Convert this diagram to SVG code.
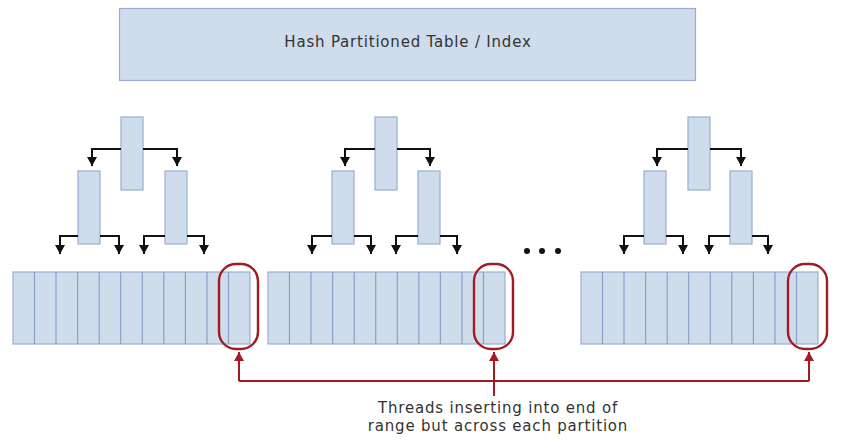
<svg xmlns="http://www.w3.org/2000/svg" xmlns:xlink="http://www.w3.org/1999/xlink" width="846" height="442" viewBox="0 0 846 442">
<defs>
<style>
.box{fill:#cfdcec;stroke:#9aaed3;stroke-width:1.2}
.cell{fill:none;stroke:#8aa0c8;stroke-width:1.2}
.blk{fill:none;stroke:#111;stroke-width:2}
.red{fill:none;stroke:#a01c22;stroke-width:2}
.ring{fill:none;stroke:#a01c22;stroke-width:2.4}
.lbl{font-family:"DejaVu Sans","Liberation Sans",sans-serif;font-size:15px;letter-spacing:0.8px;fill:#333}
</style>
<marker id="ah" markerUnits="userSpaceOnUse" markerWidth="12" markerHeight="12" viewBox="0 0 12 12" refX="10" refY="6" orient="auto">
<path d="M1,1 L10,6 L1,11 Z" fill="#111"/>
</marker>
<marker id="ahr" markerUnits="userSpaceOnUse" markerWidth="12" markerHeight="12" viewBox="0 0 12 12" refX="10" refY="6" orient="auto">
<path d="M1,1 L10,6 L1,11 Z" fill="#a01c22"/>
</marker>
</defs>
<rect width="846" height="442" fill="#ffffff"/>

<g id="table">
<rect class="box" x="119.5" y="8.5" width="576" height="72"/>
<text class="lbl" x="408" y="47" text-anchor="middle">Hash Partitioned Table / Index</text>
</g>

<g id="partition1" transform="translate(13,0)">
<g id="p1-root"><rect class="box" x="108" y="117" width="22" height="73"/></g>
<g id="p1-left"><rect class="box" x="65" y="171" width="22" height="73"/></g>
<g id="p1-right"><rect class="box" x="152" y="171" width="22" height="73"/></g>
<g id="p1-array">
<rect class="box" x="0" y="272" width="237" height="72"/>
<path class="cell" d="M21.5 272V344M43 272V344M64.6 272V344M86.2 272V344M107.7 272V344M129.3 272V344M150.8 272V344M172.4 272V344M194 272V344M215.5 272V344"/>
</g>
<g id="p1-ring"><rect class="ring" x="206" y="264" width="39" height="85" rx="17"/></g>
</g>

<g id="partition2" transform="translate(268,0)">
<g id="p2-root"><rect class="box" x="107" y="117" width="22" height="73"/></g>
<g id="p2-left"><rect class="box" x="64" y="171" width="22" height="73"/></g>
<g id="p2-right"><rect class="box" x="150" y="171" width="22" height="73"/></g>
<g id="p2-array">
<rect class="box" x="0" y="272" width="237" height="72"/>
<path class="cell" d="M21.5 272V344M43 272V344M64.6 272V344M86.2 272V344M107.7 272V344M129.3 272V344M150.8 272V344M172.4 272V344M194 272V344M215.5 272V344"/>
</g>
<g id="p2-ring"><rect class="ring" x="206" y="264" width="39" height="85" rx="17"/></g>
</g>

<g id="partition3" transform="translate(581,0)">
<g id="p3-root"><rect class="box" x="107" y="117" width="22" height="73"/></g>
<g id="p3-left"><rect class="box" x="63" y="171" width="22" height="73"/></g>
<g id="p3-right"><rect class="box" x="149" y="171" width="22" height="73"/></g>
<g id="p3-array">
<rect class="box" x="0" y="272" width="237" height="72"/>
<path class="cell" d="M21.5 272V344M43 272V344M64.6 272V344M86.2 272V344M107.7 272V344M129.3 272V344M150.8 272V344M172.4 272V344M194 272V344M215.5 272V344"/>
</g>
<g id="p3-ring"><rect class="ring" x="207" y="264" width="39" height="85" rx="17"/></g>
</g>

<g id="ellipsis" fill="#111">
<circle cx="527" cy="251" r="3"/>
<circle cx="542" cy="251" r="3"/>
<circle cx="558" cy="251" r="3"/>
</g>

<g id="connectors">
<g transform="translate(13,0)">
<path class="blk" d="M108 149H79V166" marker-end="url(#ah)"/>
<path class="blk" d="M130 149H164V166" marker-end="url(#ah)"/>
<path class="blk" d="M65 236H47V254" marker-end="url(#ah)"/>
<path class="blk" d="M87 236H106V254" marker-end="url(#ah)"/>
<path class="blk" d="M152 236H131V254" marker-end="url(#ah)"/>
<path class="blk" d="M174 236H191V254" marker-end="url(#ah)"/>
</g>
<g transform="translate(268,0)">
<path class="blk" d="M107 149H77V166" marker-end="url(#ah)"/>
<path class="blk" d="M129 149H162V166" marker-end="url(#ah)"/>
<path class="blk" d="M64 236H44V254" marker-end="url(#ah)"/>
<path class="blk" d="M86 236H103V254" marker-end="url(#ah)"/>
<path class="blk" d="M150 236H128V254" marker-end="url(#ah)"/>
<path class="blk" d="M172 236H189V254" marker-end="url(#ah)"/>
</g>
<g transform="translate(581,0)">
<path class="blk" d="M107 149H76V166" marker-end="url(#ah)"/>
<path class="blk" d="M129 149H160V166" marker-end="url(#ah)"/>
<path class="blk" d="M63 236H43V254" marker-end="url(#ah)"/>
<path class="blk" d="M85 236H102V254" marker-end="url(#ah)"/>
<path class="blk" d="M149 236H128V254" marker-end="url(#ah)"/>
<path class="blk" d="M171 236H187V254" marker-end="url(#ah)"/>
</g>
<path class="red" d="M239 381V352" marker-end="url(#ahr)"/>
<path class="red" d="M809 381V352" marker-end="url(#ahr)"/>
<path class="red" d="M494 396V352" marker-end="url(#ahr)"/>
<path class="red" d="M239 381H809"/>
</g>

<g id="caption">
<text class="lbl" x="498" y="413" text-anchor="middle">Threads inserting into end of</text>
<text class="lbl" x="498" y="431" text-anchor="middle">range but across each partition</text>
</g>
</svg>
